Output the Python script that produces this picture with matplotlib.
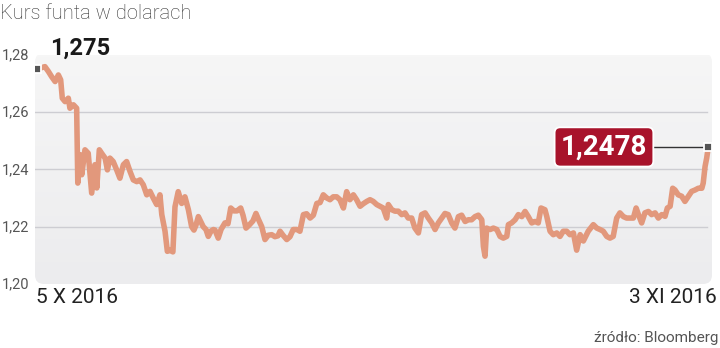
import numpy as np
import matplotlib.pyplot as plt
from matplotlib.patches import FancyBboxPatch
from matplotlib.colors import LinearSegmentedColormap
from matplotlib.transforms import IdentityTransform

# days since 5 X 2016 and GBP/USD rate
days = [0.00, 0.33, 0.48, 0.62, 0.77, 0.91, 1.01, 1.08, 1.20, 1.34, 1.41, 1.56, 1.70, 1.75, 1.85,
        1.92, 2.06, 2.20, 2.35, 2.49, 2.57, 2.68, 2.78, 2.93, 3.03, 3.14, 3.28, 3.43, 3.57, 3.72,
        3.86, 4.01, 4.15, 4.30, 4.44, 4.58, 4.73, 4.87, 5.01, 5.16, 5.30, 5.38, 5.52, 5.62, 5.74,
        5.86, 5.95, 6.09, 6.24, 6.38, 6.53, 6.67, 6.77, 6.86, 6.96, 7.08, 7.17, 7.29, 7.39, 7.51,
        7.61, 7.68, 7.82, 7.94, 8.11, 8.24, 8.36, 8.50, 8.63, 8.79, 8.89, 9.02, 9.15, 9.32, 9.45,
        9.56, 9.70, 9.84, 9.98, 10.13, 10.27, 10.40, 10.49, 10.62, 10.78, 10.92, 11.06, 11.22, 11.35, 11.50,
        11.64, 11.79, 11.93, 12.08, 12.22, 12.36, 12.51, 12.65, 12.79, 12.94, 13.08, 13.23, 13.37, 13.51, 13.66,
        13.80, 13.95, 14.09, 14.24, 14.38, 14.52, 14.67, 14.81, 14.95, 15.10, 15.17, 15.32, 15.46, 15.60, 15.75,
        15.89, 16.03, 16.18, 16.32, 16.47, 16.61, 16.76, 16.90, 17.05, 17.19, 17.33, 17.48, 17.62, 17.76, 17.91,
        18.05, 18.20, 18.34, 18.49, 18.63, 18.77, 18.92, 19.06, 19.21, 19.28, 19.35, 19.42, 19.57, 19.71, 19.86,
        20.00, 20.14, 20.29, 20.36, 20.50, 20.65, 20.79, 20.94, 21.08, 21.22, 21.37, 21.51, 21.65, 21.77, 21.94,
        22.02, 22.16, 22.30, 22.45, 22.59, 22.73, 22.88, 23.02, 23.17, 23.31, 23.46, 23.60, 23.81, 24.03, 24.18,
        24.32, 24.46, 24.61, 24.75, 24.89, 25.04, 25.18, 25.33, 25.47, 25.62, 25.76, 25.88, 25.98, 26.12, 26.26,
        26.41, 26.55, 26.70, 26.84, 26.99, 27.13, 27.23, 27.35, 27.46, 27.56, 27.70, 27.85, 27.99, 28.14, 28.28,
        28.43, 28.57, 28.72, 28.78, 28.86, 28.93, 29.00]
rate = [1.2750, 1.2758, 1.2741, 1.2723, 1.2706, 1.2729, 1.2712, 1.2648, 1.2636, 1.2648, 1.2613, 1.2625, 1.2613, 1.2352, 1.2451,
        1.2381, 1.2468, 1.2456, 1.2317, 1.2416, 1.2335, 1.2468, 1.2456, 1.2439, 1.2398, 1.2439, 1.2427, 1.2398, 1.2369, 1.2416,
        1.2427, 1.2392, 1.2363, 1.2357, 1.2363, 1.2346, 1.2311, 1.2323, 1.2300, 1.2277, 1.2311, 1.2242, 1.2184, 1.2114, 1.2118,
        1.2112, 1.2269, 1.2322, 1.2281, 1.2304, 1.2259, 1.2200, 1.2188, 1.2206, 1.2235, 1.2215, 1.2200, 1.2190, 1.2166, 1.2185,
        1.2190, 1.2188, 1.2160, 1.2190, 1.2213, 1.2210, 1.2265, 1.2255, 1.2255, 1.2265, 1.2240, 1.2195, 1.2205, 1.2220, 1.2246,
        1.2225, 1.2200, 1.2155, 1.2170, 1.2172, 1.2165, 1.2168, 1.2184, 1.2170, 1.2155, 1.2165, 1.2190, 1.2190, 1.2184, 1.2242,
        1.2245, 1.2230, 1.2240, 1.2281, 1.2284, 1.2311, 1.2300, 1.2294, 1.2304, 1.2304, 1.2294, 1.2265, 1.2322, 1.2294, 1.2311,
        1.2294, 1.2271, 1.2280, 1.2288, 1.2294, 1.2288, 1.2277, 1.2271, 1.2265, 1.2230, 1.2277, 1.2259, 1.2254, 1.2254, 1.2242,
        1.2248, 1.2230, 1.2230, 1.2195, 1.2178, 1.2242, 1.2248, 1.2230, 1.2213, 1.2190, 1.2213, 1.2230, 1.2246, 1.2242, 1.2213,
        1.2195, 1.2235, 1.2240, 1.2218, 1.2224, 1.2224, 1.2235, 1.2240, 1.2224, 1.2131, 1.2097, 1.2195, 1.2190, 1.2195, 1.2190,
        1.2166, 1.2160, 1.2166, 1.2207, 1.2213, 1.2224, 1.2242, 1.2235, 1.2253, 1.2235, 1.2213, 1.2218, 1.2213, 1.2265, 1.2259,
        1.2235, 1.2184, 1.2172, 1.2178, 1.2166, 1.2184, 1.2184, 1.2172, 1.2178, 1.2118, 1.2172, 1.2150, 1.2184, 1.2207, 1.2195,
        1.2190, 1.2184, 1.2166, 1.2160, 1.2166, 1.2230, 1.2248, 1.2235, 1.2230, 1.2230, 1.2230, 1.2265, 1.2242, 1.2213, 1.2248,
        1.2253, 1.2242, 1.2248, 1.2230, 1.2242, 1.2236, 1.2265, 1.2271, 1.2334, 1.2328, 1.2311, 1.2306, 1.2288, 1.2306, 1.2323,
        1.2328, 1.2334, 1.2334, 1.2352, 1.2410, 1.2439, 1.2478]

yticks = [1.20, 1.22, 1.24, 1.26, 1.28]
start_label = "5 X 2016"
end_label = "3 XI 2016"
first_val = "1,275"
last_val = "1,2478"

line_col = "#e2987c"
red = "#a8132b"

fig = plt.figure(figsize=(7.2, 3.48), dpi=100)
ax = fig.add_axes([0.0486, 0.1839, 0.9403, 0.6592])
ax.set_xlim(-0.10, 29.16)
ax.set_ylim(1.20, 1.28)
ax.axis("off")

# grey panel with rounded corners and a soft vertical gradient
panel = FancyBboxPatch((35, 64), 677, 231, boxstyle="round,pad=0,rounding_size=9",
                       transform=IdentityTransform(), facecolor="none", edgecolor="none")
ax.add_artist(panel)
grad = LinearSegmentedColormap.from_list("g", ["#ececee", "#f6f6f6"])
im = ax.imshow(np.linspace(0, 1, 50).reshape(-1, 1), extent=[-0.10, 29.16, 1.1995, 1.2805],
               origin="lower", aspect="auto", cmap=grad, zorder=0)
im.set_clip_path(panel)

for y in yticks[1:-1]:
    ax.plot([-0.10, 28.95], [y, y], color="#cdcdd2", lw=1.0, zorder=1)

ax.plot(days, rate, color=line_col, lw=4.0, solid_joinstyle="round", solid_capstyle="round", zorder=3)

# connector from label to last point
ax.plot([24.5, days[-1]], [rate[-1], rate[-1]], color="#333333", lw=1.0, zorder=4)

# end markers
for d, r in [(days[0], rate[0]), (days[-1], rate[-1])]:
    ax.plot(d, r, marker="s", ms=6, mfc="#555555", mec="white", mew=1.3, zorder=5)

ax.text(0.55, 1.2781, first_val, fontsize=17, fontweight="bold", color="#1a1a1a",
        family="Roboto", va="bottom", ha="left", zorder=6)
ax.text(24.49, rate[-1], last_val, fontsize=20, fontweight="bold", color="white",
        family="Roboto", va="center", ha="center", zorder=6,
        bbox=dict(boxstyle="round,pad=0.22,rounding_size=0.2", fc=red, ec="white", lw=1.3))

# y tick labels
for y in yticks:
    fig.text(2 / 720, ax.transData.transform((0, y))[1] / 348 - 0.002,
             f"{y:.2f}".replace(".", ","), fontsize=10.5, color="#555555",
             family="Roboto", ha="left", va="center")

fig.text(0.0, 0.962, "Kurs funta w dolarach", fontsize=14.5, color="#333333",
         family="Roboto", ha="left", va="center", fontweight="light")
fig.text(36 / 720, 0.145, start_label, fontsize=15, color="#222222", family="Roboto",
         ha="left", va="center")
fig.text(717 / 720, 0.145, end_label, fontsize=15, color="#222222", family="Roboto",
         ha="right", va="center")
fig.text(718 / 720, 0.03, "źródło: Bloomberg", fontsize=11, color="#555555", family="Roboto",
         ha="right", va="center")

fig.savefig("out.png", dpi=100)
